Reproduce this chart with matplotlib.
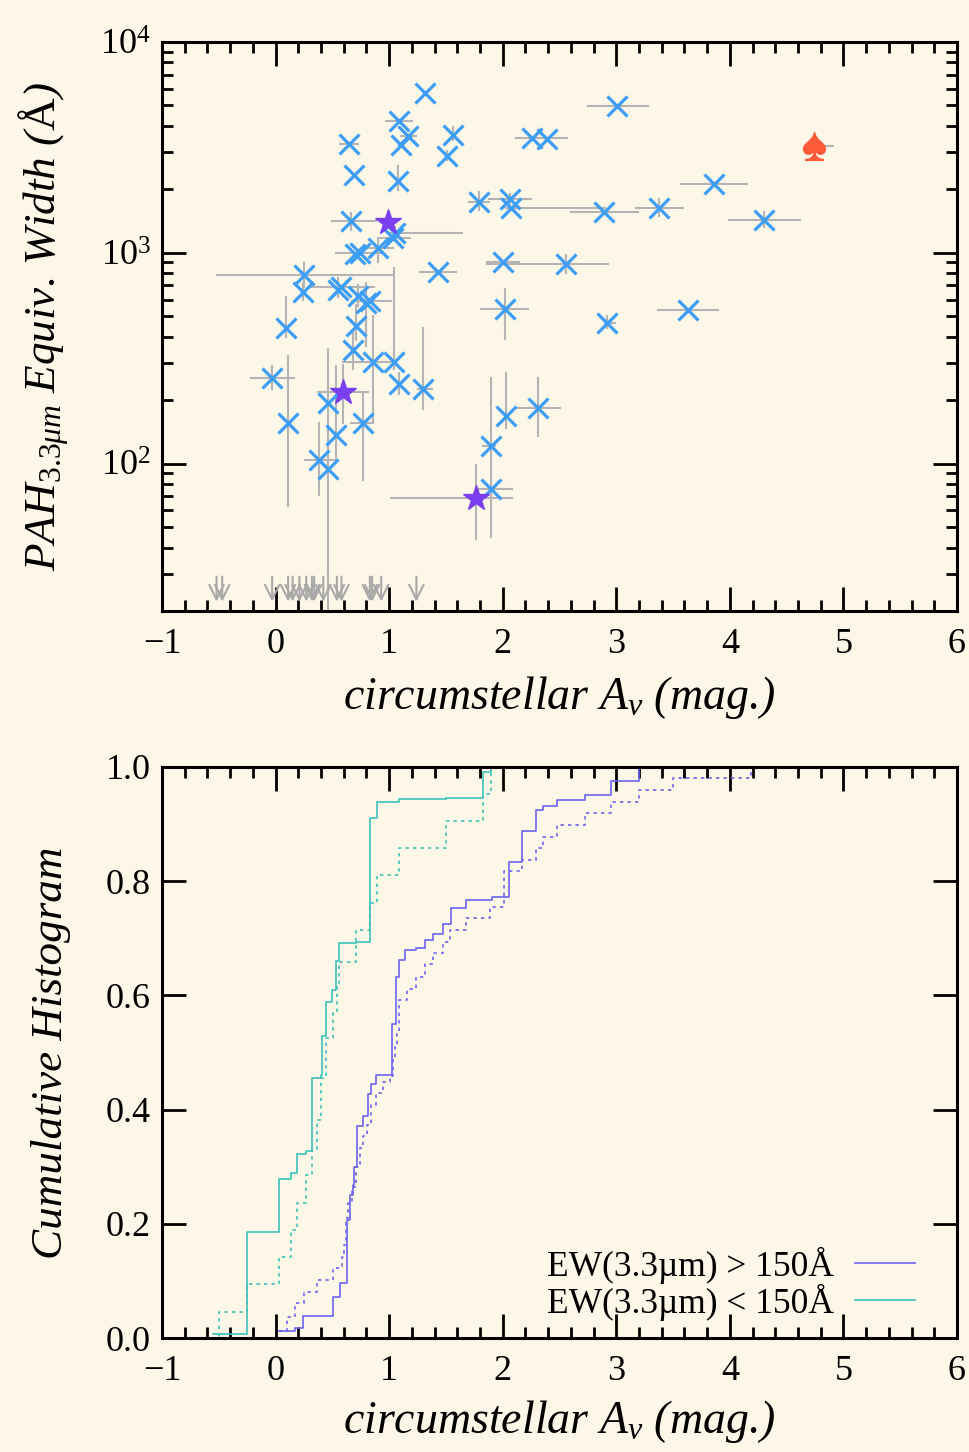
import numpy as np
import matplotlib
matplotlib.use("Agg")
import matplotlib.pyplot as plt
from matplotlib.ticker import MultipleLocator, LogLocator, NullFormatter, NullLocator

plt.rcParams['font.family'] = ['Liberation Serif', 'DejaVu Serif']
plt.rcParams['mathtext.fontset'] = 'custom'
plt.rcParams['mathtext.rm'] = 'Liberation Serif'
plt.rcParams['mathtext.it'] = 'Liberation Serif:italic'

# ---- top panel: PAH 3.3um equivalent width vs circumstellar Av ----
ew_x = [1.32, 1.09, 1.17, 1.10, 0.65, 1.565, 1.51, 0.69, 1.075, 1.79, 2.06, 2.07, 0.66, 1.03,
        1.05, 0.90, 0.74, 0.70, 1.43, 2.005, 2.56, 0.25, 0.24, 0.55, 0.58, 0.73, 0.80, 0.83,
        2.02, 0.09, 0.71, -0.03, 0.68, 0.855, 0.77, 1.04, 1.09, 1.30, 0.465, 0.53, 0.38, 0.465,
        1.90, 1.90, 2.03, 2.31, 0.107, 3.01, 2.255, 2.39, 3.86, 2.89, 3.38, 4.30, 2.92, 3.63]
ew_y = [5710, 4230, 3590, 3250, 3290, 3620, 2880, 2340, 2200, 1750, 1800, 1630, 1410, 1180,
        1240, 1050, 995, 990, 807, 900, 887, 787, 651, 668, 692, 621, 578, 588,
        541, 440, 451, 256, 347, 303, 156, 303, 239, 226, 194, 137, 104, 94.4,
        121, 76, 169, 183, 156, 4990, 3495, 3470, 2123, 1553, 1630, 1423, 464, 533]
# error bar ends (None = no bar)
ew_xlo = [None, 0.975, 1.10, None, 0.57, None, None, None, None, 1.70, 1.88, 2.03, 0.50, 0.90,
          1.00, 0.78, 0.53, None, 1.27, 1.86, 1.86, -0.52, None, None, 0.30, None, None, 0.67,
          1.81, None, None, -0.22, None, 0.59, 0.66, None, None, 1.25, None, None, 0.26, None,
          1.83, 1.77, None, 2.13, None, 2.75, 2.12, None, 3.57, 2.60, 3.17, 3.99, 2.90, 3.37]
ew_xhi = [None, 1.205, 1.24, None, 0.73, None, None, None, None, 1.88, 2.25, 2.90, 0.88, 1.18,
          1.64, 1.03, 0.95, None, 1.59, 2.14, 2.93, 1.04, None, None, 0.87, None, None, 1.02,
          2.22, None, None, 0.16, None, 1.04, 0.86, None, None, 1.38, None, None, 0.51, None,
          1.93, 2.08, None, 2.50, None, 3.28, 2.57, None, 4.15, 3.19, 3.59, 4.62, 2.99, 3.90]
ew_ylo = [None, None, None, None, None, 3430, 2750, None, 1990, 1600, 1700, None, 1280, None,
          1150, 900, None, None, None, None, 800, 690, 600, 620, None, 560, 360, None,
          390, 400, 385, 225, 280, 160, 84, 280, 215, 182, 15, 104, 71, None,
          45, None, 148, 135, 63, None, None, None, None, None, 1500, 1330, 440, None]
ew_yhi = [None, None, None, None, None, 3950, 3050, None, 2580, 1950, 1900, None, 1550, None,
          1330, 1155, None, None, None, None, 980, 890, 720, 760, None, 700, 720, None,
          670, 620, 565, 290, 420, 500, 218, 849, 270, 440, 350, 290, 156, None,
          254, None, 270, 254, 323, None, None, None, None, None, 1800, 1560, 500, None]

star_x = [0.993, 0.59, 1.765]
star_y = [1393, 218, 68.8]
star_xlo = [None, 0.37, 1.02]
star_xhi = [None, 0.81, 2.08]
star_ylo = [None, 156, 44]
star_yhi = [None, 295, 98]

spade_x = [4.74]
spade_y = [3213]
spade_xhi = [4.91]

# upper limits (arrows at the bottom)
ul_x = [-0.52, -0.47, -0.03, 0.11, 0.15, 0.21, 0.27, 0.32, 0.34, 0.42, 0.54, 0.58,
        0.83, 0.85, 0.93, 1.24]
ul_top = 30.0
ul_bot = 21.5

# ---- bottom panel: cumulative histograms ----
cs_x = [-0.55, -0.248, 0.033, 0.134, 0.187, 0.266, 0.319, 0.398, 0.41, 0.412, 0.445, 0.50,
        0.53, 0.562, 0.709, 0.832, 0.896, 1.09, 1.50, 1.83, 1.90]
cs_y = [0.007, 0.186, 0.278, 0.289, 0.323, 0.327, 0.455, 0.46, 0.484, 0.529, 0.589, 0.609,
        0.661, 0.691, 0.694, 0.910, 0.939, 0.944, 0.946, 0.992, 1.0]
cd_x = [-0.55, -0.495, -0.248, 0.033, 0.134, 0.187, 0.266, 0.319, 0.362, 0.40, 0.44, 0.503,
        0.539, 0.559, 0.706, 0.832, 0.89, 1.087, 1.50, 1.83, 1.90]
cd_y = [0.0, 0.046, 0.094, 0.142, 0.189, 0.237, 0.285, 0.331, 0.381, 0.455, 0.525, 0.569,
        0.62, 0.659, 0.714, 0.762, 0.81, 0.858, 0.906, 0.953, 1.0]
ps_x = [0.033, 0.172, 0.245, 0.503, 0.568, 0.627, 0.656, 0.68, 0.694, 0.715, 0.773, 0.817,
        0.838, 0.885, 1.028, 1.061, 1.09, 1.14, 1.237, 1.316, 1.389, 1.477, 1.542, 1.677,
        1.903, 2.058, 2.167, 2.29, 2.357, 2.475, 2.724, 2.953, 3.2, 4.19]
ps_y = [0.012, 0.017, 0.0385, 0.071, 0.096, 0.207, 0.25, 0.268, 0.30, 0.371, 0.388, 0.427,
        0.444, 0.461, 0.55, 0.632, 0.662, 0.68, 0.683, 0.697, 0.708, 0.725, 0.753, 0.767,
        0.773, 0.833, 0.888, 0.925, 0.932, 0.942, 0.951, 0.975, 1.0, 1.0]
pd_x = [0.03, 0.098, 0.172, 0.251, 0.362, 0.509, 0.583, 0.603, 0.618, 0.641, 0.671, 0.709,
        0.744, 0.773, 0.803, 0.838, 0.885, 0.949, 1.008, 1.037, 1.052, 1.067, 1.09, 1.155,
        1.237, 1.316, 1.389, 1.477, 1.536, 1.677, 1.888, 2.011, 2.167, 2.29, 2.352, 2.475,
        2.724, 2.953, 3.2, 3.502, 4.19]
pd_y = [0.012, 0.037, 0.061, 0.081, 0.102, 0.122, 0.142, 0.163, 0.21, 0.236, 0.265, 0.30,
        0.332, 0.353, 0.373, 0.408, 0.429, 0.449, 0.458, 0.49, 0.51, 0.534, 0.592, 0.612,
        0.633, 0.655, 0.675, 0.694, 0.714, 0.735, 0.755, 0.817, 0.837, 0.858, 0.878, 0.898,
        0.92, 0.939, 0.96, 0.981, 1.0]

legend_labels = ['EW(3.3µm) > 150Å', 'EW(3.3µm) < 150Å']

bg = '#fdf7e8'
blue = '#3d9ef7'
violet = '#7a3ff0'
cyan = '#3cc2b8'
purple = '#6a64f2'
grey = '#b4b4b4'


def err_segments(ax, xs, ys, xlo, xhi, ylo, yhi):
    for i in range(len(xs)):
        if xlo is not None and xlo[i] is not None:
            ax.plot([xlo[i], xhi[i]], [ys[i], ys[i]], color=grey, lw=1.5, zorder=1)
        elif xhi is not None and xhi[i] is not None:
            ax.plot([xs[i], xhi[i]], [ys[i], ys[i]], color=grey, lw=1.5, zorder=1)
        if ylo is not None and ylo[i] is not None:
            ax.plot([xs[i], xs[i]], [ylo[i], yhi[i]], color=grey, lw=1.5, zorder=1)


def style_axes(ax):
    ax.set_facecolor(bg)
    for s in ax.spines.values():
        s.set_linewidth(2.2)
    ax.tick_params(which='both', direction='in', top=True, right=True, width=2,
                   labelsize=26)
    ax.tick_params(axis='x', pad=12)
    ax.tick_params(axis='y', pad=8)
    ax.tick_params(which='major', length=17)
    ax.tick_params(which='minor', length=8)
    ax.set_xlim(-1, 6)
    ax.xaxis.set_major_locator(MultipleLocator(1))
    ax.xaxis.set_minor_locator(MultipleLocator(0.2))
    ax.set_xlabel('circumstellar $A_v$ (mag.)', fontsize=33, style='italic')


fig = plt.figure(figsize=(9.69, 14.52), dpi=100, facecolor=bg)
ax1 = fig.add_axes([0.1672, 0.5792, 0.8204, 0.3919])
ax2 = fig.add_axes([0.1672, 0.0785, 0.8204, 0.3933])

# top
style_axes(ax1)
ax1.set_yscale('log')
ax1.set_ylim(20, 1e4)
ax1.yaxis.set_major_locator(LogLocator(base=10, numticks=10))
ax1.yaxis.set_minor_locator(LogLocator(base=10, subs=np.arange(2, 10), numticks=20))
ax1.yaxis.set_minor_formatter(NullFormatter())
err_segments(ax1, ew_x, ew_y, ew_xlo, ew_xhi, ew_ylo, ew_yhi)
err_segments(ax1, star_x, star_y, star_xlo, star_xhi, star_ylo, star_yhi)
err_segments(ax1, spade_x, spade_y, None, spade_xhi, None, None)
ax1.plot(ew_x, ew_y, ls='none', marker='x', ms=14, mew=2.3, color=blue, zorder=3)
ax1.plot(star_x, star_y, ls='none', marker='*', ms=19, color=violet, mec=violet, zorder=4)
ax1.plot(spade_x, spade_y, ls='none', marker=r'$\spadesuit$', ms=20, color='#ff5a3a', zorder=4)
for x in ul_x:
    ax1.annotate('', xy=(x, ul_bot), xytext=(x, ul_top),
                 arrowprops=dict(arrowstyle='->', color='#a8a8a8', lw=1.5, mutation_scale=26))
ax1.set_ylabel(r'PAH$_{3.3\mu m}$ Equiv. Width ($\mathrm{\AA}$)', fontsize=32.5, style='italic')
ax1.yaxis.set_label_coords(-0.115, 0.5)
ax1.xaxis.set_label_coords(0.5, -0.11)

# bottom
style_axes(ax2)
ax2.set_ylim(0, 1)
ax2.yaxis.set_major_locator(MultipleLocator(0.2))
ax2.yaxis.set_minor_locator(NullLocator())
ax2.yaxis.set_major_formatter(matplotlib.ticker.FormatStrFormatter('%.1f'))
ax2.step(ps_x, ps_y, where='post', color=purple, lw=1.2, label=legend_labels[0])
ax2.step(pd_x, pd_y, where='post', color=purple, lw=1.2, ls=(0, (2, 2.5)))
ax2.step(cs_x, cs_y, where='post', color=cyan, lw=1.2, label=legend_labels[1])
ax2.step(cd_x, cd_y, where='post', color=cyan, lw=1.2, ls=(0, (2, 2.5)))
ax2.legend(loc='lower right', bbox_to_anchor=(0.947, 0.03), frameon=False, markerfirst=False,
           fontsize=25.5, handlelength=1.7, labelspacing=0.0, handletextpad=0.6,
           borderpad=0, borderaxespad=0)
ax2.set_ylabel('Cumulative Histogram', fontsize=32.5, style='italic')
ax2.yaxis.set_label_coords(-0.115, 0.5)
ax2.xaxis.set_label_coords(0.5, -0.105)

fig.savefig('out.png', dpi=100, facecolor=bg)
